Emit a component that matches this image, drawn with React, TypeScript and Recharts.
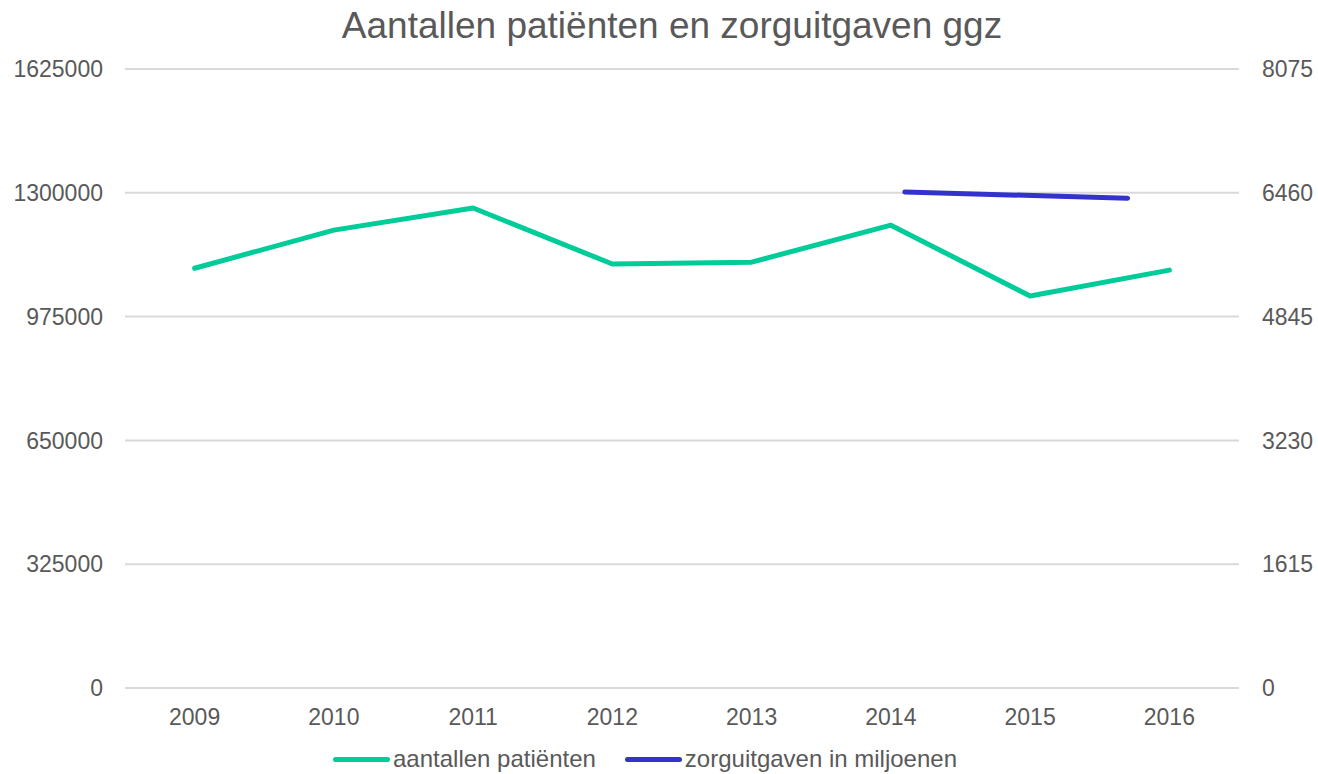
import React from 'react';
import {
  ComposedChart,
  Line,
  XAxis,
  YAxis,
  CartesianGrid,
  Legend,
} from 'recharts';

// Categories and values
const years = ['2009', '2010', '2011', '2012', '2013', '2014', '2015', '2016'];
const patients = [1102000, 1202000, 1260000, 1113000, 1118000, 1215000, 1029000, 1097000];

// The cost series sits on its own (hidden) secondary category axis with 5 slots
const costSlots = ['s1', 's2', 's3', 's4', 's5'];
const costs: (number | null)[] = [null, null, null, 6470, 6390];

const leftTicks = [0, 325000, 650000, 975000, 1300000, 1625000];
const rightTicks = [0, 1615, 3230, 4845, 6460, 8075];

const GREEN = '#00cc99';
const BLUE = '#3333cc';
const TEXT = '#595959';
const FONT = '"Liberation Sans", Arial, sans-serif';

const patientData = years.map((year, i) => ({ year, patients: patients[i] }));
const costData = costSlots.map((slot, i) => ({ slot, costs: costs[i] }));

const legendItems = [
  { label: 'aantallen patiënten', color: GREEN },
  { label: 'zorguitgaven in miljoenen', color: BLUE },
];

const LegendContent = () => (
  <div
    style={{
      display: 'flex',
      justifyContent: 'flex-start',
      alignItems: 'center',
      height: 30,
      gap: 29,
      fontFamily: FONT,
      fontSize: 24,
      color: TEXT,
      paddingLeft: 333,
    }}
  >
    {legendItems.map((item) => (
      <div key={item.label} style={{ display: 'flex', alignItems: 'center', gap: 3 }}>
        <span
          style={{
            display: 'inline-block',
            width: 57,
            height: 5,
            borderRadius: 3,
            background: item.color,
          }}
        />
        <span>{item.label}</span>
      </div>
    ))}
  </div>
);

export default function App() {
  return (
    <div style={{ position: 'absolute', left: 0, top: 0, width: 1318, height: 774, background: '#fff' }}>
      <div
        style={{
          position: 'absolute',
          top: 4,
          left: 0,
          width: 1318,
          paddingLeft: 26,
          boxSizing: 'border-box',
          textAlign: 'center',
          fontFamily: FONT,
          fontSize: 37,
          color: TEXT,
          lineHeight: '44px',
        }}
      >
        Aantallen patiënten en zorguitgaven ggz
      </div>
      <ComposedChart
        width={1318}
        height={774}
        data={patientData}
        margin={{ top: 69, right: 0, bottom: 0, left: 0 }}
      >
        <CartesianGrid yAxisId="left" vertical={false} stroke="#d9d9d9" strokeWidth={2} />
        <XAxis
          dataKey="year"
          xAxisId="main"
          scale="band"
          height={56}
          axisLine={false}
          tickLine={false}
          tickMargin={15}
          interval={0}
          tick={{ fill: TEXT, fontSize: 23, fontFamily: FONT }}
        />
        <XAxis
          dataKey="slot"
          xAxisId="cost"
          type="category"
          scale="band"
          height={0}
          hide
          allowDuplicatedCategory={false}
        />
        <YAxis
          yAxisId="left"
          orientation="left"
          width={125}
          domain={[0, 1625000]}
          ticks={leftTicks}
          interval={0}
          axisLine={false}
          tickLine={false}
          tickMargin={16}
          tick={{ fill: TEXT, fontSize: 23, fontFamily: FONT }}
        />
        <YAxis
          yAxisId="right"
          orientation="right"
          width={79}
          domain={[0, 8075]}
          ticks={rightTicks}
          interval={0}
          axisLine={false}
          tickLine={false}
          tickMargin={17}
          tick={{ fill: TEXT, fontSize: 23, fontFamily: FONT, textAnchor: 'start' }}
        />
        <Line
          xAxisId="main"
          yAxisId="left"
          type="linear"
          dataKey="patients"
          name="aantallen patiënten"
          stroke={GREEN}
          strokeWidth={5}
          strokeLinecap="round"
          strokeLinejoin="round"
          dot={false}
          isAnimationActive={false}
        />
        <Line
          data={costData}
          xAxisId="cost"
          yAxisId="right"
          type="linear"
          dataKey="costs"
          name="zorguitgaven in miljoenen"
          stroke={BLUE}
          strokeWidth={5}
          strokeLinecap="round"
          dot={false}
          isAnimationActive={false}
        />
        <Legend
          verticalAlign="bottom"
          content={<LegendContent />}
          wrapperStyle={{ position: 'absolute', top: 744, left: 0, width: 1318, height: 30 }}
        />
      </ComposedChart>
    </div>
  );
}
